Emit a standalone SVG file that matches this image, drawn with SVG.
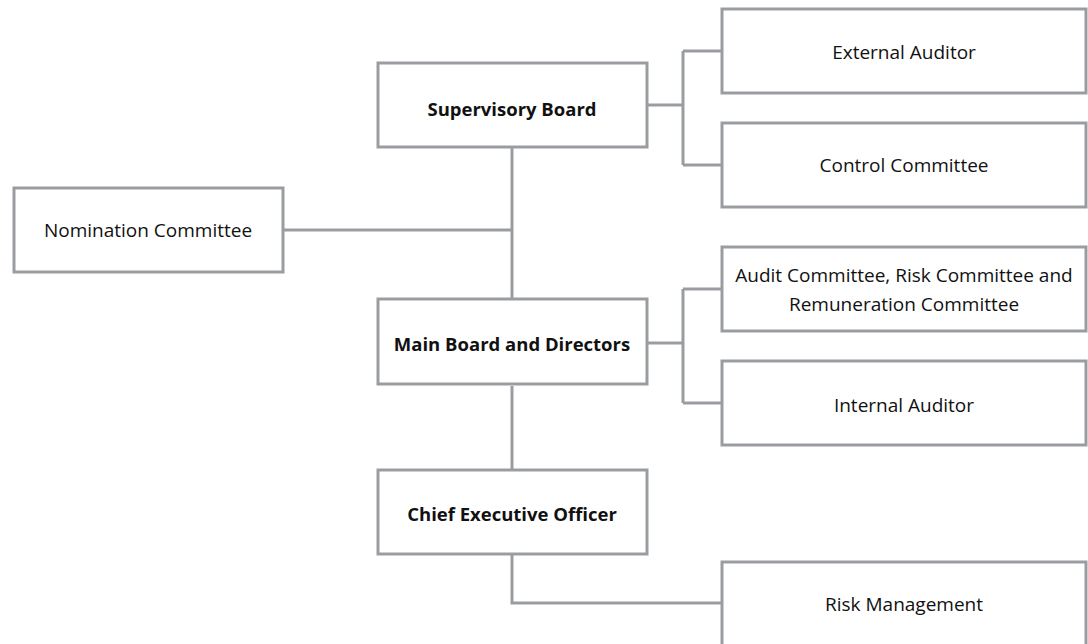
<svg xmlns="http://www.w3.org/2000/svg" width="1088" height="644" viewBox="0 0 1088 644">
<style>
.box{fill:#fff;stroke:#999da1;stroke-width:3}
.c{fill:none;stroke:#999da1;stroke-width:3}
text{font-family:"Open Sans","Noto Sans","Liberation Sans",sans-serif;fill:#111;text-anchor:middle;dominant-baseline:central}
.r{font-size:19px}
.b{font-size:18.5px;font-weight:bold}
</style>
<rect width="1088" height="644" fill="#fff"/>
<g id="connectors">
<path class="c" d="M648 105H683M683 51V165M683 51H722M683 165H722"/>
<path class="c" d="M512 148V298M283 230H512"/>
<path class="c" d="M648 343H683M683 289V403M683 289H722M683 403H722"/>
<path class="c" d="M512 386V469"/>
<path class="c" d="M512 555V603H722"/>
</g>
<g id="supervisory-board"><rect class="box" x="378" y="63" width="269" height="84"/><text class="b" x="512" y="108">Supervisory Board</text></g>
<g id="nomination-committee"><rect class="box" x="14" y="188" width="269" height="84"/><text class="r" x="148" y="230">Nomination Committee</text></g>
<g id="main-board"><rect class="box" x="378" y="299" width="269" height="85"/><text class="b" x="512" y="343">Main Board and Directors</text></g>
<g id="ceo"><rect class="box" x="378" y="470" width="269" height="84"/><text class="b" x="512" y="513">Chief Executive Officer</text></g>
<g id="external-auditor"><rect class="box" x="722" y="9" width="364" height="84"/><text class="r" x="904" y="52">External Auditor</text></g>
<g id="control-committee"><rect class="box" x="722" y="123" width="364" height="84"/><text class="r" x="904" y="165">Control Committee</text></g>
<g id="audit-committee"><rect class="box" x="722" y="247" width="364" height="84"/><text class="r" x="904" y="275">Audit Committee, Risk Committee and</text><text class="r" x="904" y="304">Remuneration Committee</text></g>
<g id="internal-auditor"><rect class="box" x="722" y="361" width="364" height="84"/><text class="r" x="904" y="405">Internal Auditor</text></g>
<g id="risk-management"><rect class="box" x="722" y="562" width="364" height="84"/><text class="r" x="904" y="604">Risk Management</text></g>
</svg>
